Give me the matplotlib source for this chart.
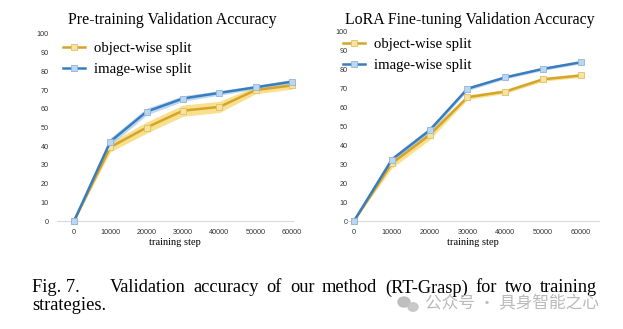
import matplotlib
matplotlib.use("Agg")
import matplotlib.pyplot as plt
from matplotlib.patches import Ellipse

steps = [0, 10000, 20000, 30000, 40000, 50000, 60000]
xtick_labels = ["0", "10000", "20000", "30000", "40000", "50000", "60000"]
yticks = [0, 10, 20, 30, 40, 50, 60, 70, 80, 90, 100]

pre_object = [0, 39.5, 50, 59, 61, 70, 72.5]
pre_object_err = [0, 2.5, 3, 3, 3, 2, 2]
pre_image = [0, 42.5, 58.5, 65.5, 68.5, 71.5, 74.5]
pre_image_err = [0, 2, 1.8, 1.5, 1.2, 1, 1.2]

lora_object = [0, 30.5, 45.5, 65.5, 68.5, 75, 77]
lora_object_err = [0, 2.5, 2.5, 1.2, 1, 1, 1]
lora_image = [0, 32.5, 48, 70, 76, 80.5, 84]
lora_image_err = [0, 1.5, 1.5, 1, 0.8, 0.8, 0.8]

titles = ["Pre-training Validation Accuracy", "LoRA Fine-tuning Validation Accuracy"]
legend_labels = ["object-wise split", "image-wise split"]

gold = "#D4A529"
gold_band = "#F6D66A"
gold_face = "#F4E3A4"
blue = "#3A7CC0"
blue_band = "#A9CBEA"
blue_face = "#BCD6EF"

W, H = 623, 329
fig = plt.figure(figsize=(W / 100, H / 100), dpi=100)
serif = "Liberation Serif"


def px(x0, y_top, w, h):
    return [x0 / W, 1 - (y_top + h) / H, w / W, h / H]


panels = [
    dict(rect=px(57, 34, 236, 187), xlim=(-4700, 60300), pad=5.8,
         obj=pre_object, obj_e=pre_object_err, img=pre_image, img_e=pre_image_err,
         title_x=172, leg=(63, 42)),
    dict(rect=px(347, 32, 252, 189), xlim=(-1850, 64760), pad=-0.5,
         obj=lora_object, obj_e=lora_object_err, img=lora_image, img_e=lora_image_err,
         title_x=470, leg=(343, 38)),
]

for i, p in enumerate(panels):
    ax = fig.add_axes(p["rect"])
    ax.set_xlim(*p["xlim"])
    ax.set_ylim(0, 100)
    for s in ["top", "right", "left"]:
        ax.spines[s].set_visible(False)
    ax.spines["bottom"].set_color("#d9d9d9")
    ax.spines["bottom"].set_linewidth(0.8)
    ax.set_xticks(steps)
    ax.set_xticklabels(xtick_labels)
    ax.set_yticks(yticks)
    ax.tick_params(length=0, labelsize=5.2, colors="#333333")
    ax.tick_params(axis="y", pad=p["pad"])
    ax.tick_params(axis="x", pad=6)
    for lab in ax.get_xticklabels() + ax.get_yticklabels():
        lab.set_family("Liberation Sans")

    lo = [v - e for v, e in zip(p["obj"], p["obj_e"])]
    hi = [v + e for v, e in zip(p["obj"], p["obj_e"])]
    ax.fill_between(steps, lo, hi, color=gold_band, alpha=0.75, lw=0, clip_on=False)
    lo = [v - e for v, e in zip(p["img"], p["img_e"])]
    hi = [v + e for v, e in zip(p["img"], p["img_e"])]
    ax.fill_between(steps, lo, hi, color=blue_band, alpha=0.75, lw=0, clip_on=False)

    l1, = ax.plot(steps, p["obj"], color=gold, lw=1.8, marker="s", ms=4.6,
                  mfc=gold_face, mec="#E2C060", mew=0.6, clip_on=False, zorder=3)
    l2, = ax.plot(steps, p["img"], color=blue, lw=1.8, marker="s", ms=4.6,
                  mfc=blue_face, mec="#8DB6DE", mew=0.6, clip_on=False, zorder=4)

    ax.set_xlabel("training step", family=serif, fontsize=7.5, labelpad=1)

    fig.text(p["title_x"] / W, 1 - 20 / H, titles[i], family=serif,
             fontsize=11.4, ha="center", va="center")

    lx, ly = p["leg"]
    ax.legend([l1, l2], legend_labels, loc="upper left",
              bbox_to_anchor=(lx / W, 1 - ly / H), bbox_transform=fig.transFigure,
              frameon=False, prop=dict(family=serif, size=10.6),
              handlelength=1.5, handletextpad=0.6, labelspacing=0.5,
              borderaxespad=0, borderpad=0)

# caption, justified first line
fs = 13.2
fig.text(32 / W, 1 - 288 / H, "Fig. 7.", family=serif, fontsize=fs, va="center")
words = "Validation accuracy of our method (RT-Grasp) for two training".split()
renderer = fig.canvas.get_renderer()
objs = [fig.text(0, 1 - 288 / H, w, family=serif, fontsize=fs, va="center") for w in words]
widths = [o.get_window_extent(renderer).width for o in objs]
x0, x1 = 110, 597
gap = (x1 - x0 - sum(widths)) / (len(words) - 1)
x = x0
for o, w in zip(objs, widths):
    o.set_x(x / W)
    x += w + gap
fig.text(32 / W, 1 - 306 / H, "strategies.", family=serif, fontsize=fs, va="center")

# watermark
fig.text(425 / W, 1 - 304 / H, "公众号 · 具身智能之心",
         family=["Noto Sans CJK SC", "DejaVu Sans"], fontsize=12,
         color="#b3b3b3", va="center", alpha=0.9)
fig.patches.append(Ellipse((404 / W, 1 - 302 / H), 12 / W, 10 / H,
                           transform=fig.transFigure, color="#b8b8b8", alpha=0.9))
fig.patches.append(Ellipse((413 / W, 1 - 307 / H), 10 / W, 8.5 / H,
                           transform=fig.transFigure, color="#c4c4c4", alpha=0.9))

fig.savefig("out.png", dpi=100)
